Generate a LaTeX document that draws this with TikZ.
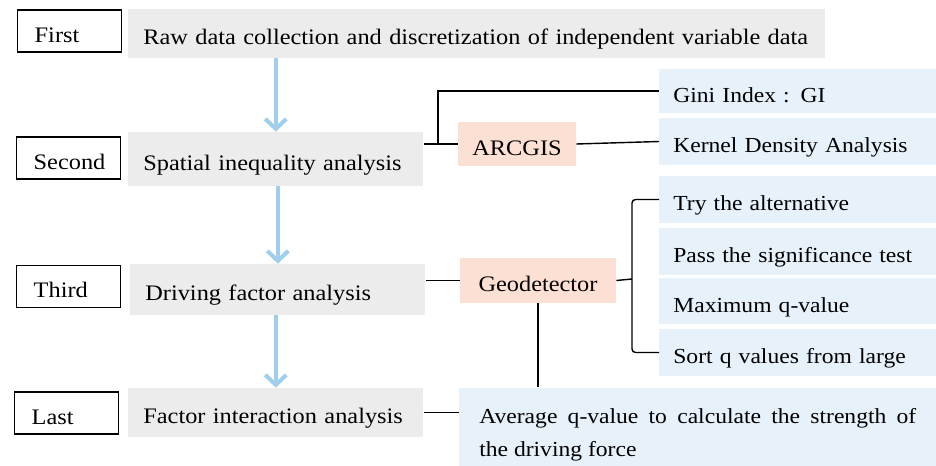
\documentclass[tikz,border=0pt]{standalone}
\usepackage{fontspec}
\setmainfont{Liberation Serif}[FakeStretch=1.1]
\usepackage{tikz}
\usetikzlibrary{arrows.meta}
\definecolor{stepGray}{RGB}{236,236,236}
\definecolor{toolSalmon}{RGB}{252,224,212}
\definecolor{resultBlue}{RGB}{230,241,249}
\definecolor{flowBlue}{RGB}{160,206,236}

\begin{document}
\begin{tikzpicture}[x=0.02cm, y=-0.02cm,
        every node/.style={font=\fontsize{12.6}{15}\selectfont}]
        \tikzstyle{oneLine} = [text height=12.6pt, text depth=0pt]
        \tikzstyle{stageStyle} = [oneLine, draw=black, line width=0.8pt, anchor=west, minimum height=0.84cm,
            text width=1.4cm, inner xsep=0.34cm, align=left]
        \tikzstyle{stepStyle} = [oneLine, fill=stepGray, anchor=west, minimum height=1cm,
            text width=5.3cm, inner xsep=0.3cm, align=left]
        \tikzstyle{toolStyle} = [oneLine, fill=toolSalmon, minimum height=0.89cm]
        \tikzstyle{resultStyle} = [oneLine, fill=resultBlue, anchor=west, minimum height=0.94cm,
            text width=4.98cm, inner xsep=0.28cm, align=left, font=\fontsize{12.2}{15}\selectfont]
        \tikzstyle{avgStyle} = [fill=resultBlue, anchor=west, minimum height=1.54cm, text width=8.74cm,
            minimum width=9.54cm, inner xsep=0.34cm, align=justify,
            font=\fontsize{12.2}{19}\selectfont]
        \tikzstyle{flowArrow} = [draw=flowBlue, line width=2.3pt, -{Straight Barb[length=0.2cm, width=0.42cm]}]
        \tikzstyle{blackEdge} = [draw=black, line width=0.8pt]
        \useasboundingbox (0,0) rectangle (936,466);
        % stages
        \node[stageStyle] (first) at (17,31) {First};
        \node[stageStyle] (second) at (16,158) {Second};
        \node[stageStyle] (third) at (16,286.5) {Third};
        \node[stageStyle] (last) at (14,413) {Last};
        % steps
        \node[stepStyle, text width=13.34cm, minimum height=0.98cm] (raw) at (128,33.5)
            {Raw data collection and discretization of independent variable data};
        \node[stepStyle, minimum height=1.08cm] (spatial) at (128,159) {Spatial inequality analysis};
        \node[stepStyle, minimum height=1.02cm] (driving) at (130,289.5) {Driving factor analysis};
        \node[stepStyle, minimum height=0.98cm] (factor) at (128,412.5) {Factor interaction analysis};
        % tools
        \node[toolStyle, minimum width=2.36cm] (arcgis) at (517,144) {ARCGIS};
        \node[toolStyle, minimum width=3.12cm] (geodetector) at (538,280.5) {Geodetector};
        % results
        \node[resultStyle, minimum height=0.88cm] (gini) at (659,91) {Gini Index : GI};
        \node[resultStyle] (kernel) at (659,141.5) {Kernel Density Analysis};
        \node[resultStyle] (try) at (659,199.5) {Try the alternative};
        \node[resultStyle] (pass) at (659,251.5) {Pass the significance test};
        \node[resultStyle] (maximum) at (659,301) {Maximum q-value};
        \node[resultStyle] (sort) at (659,352.5) {Sort q values from large};
        \node[avgStyle] (average) at (459,427.5)
            {\rule{0pt}{17pt}Average q-value to calculate the strength of\linebreak the driving force};
        \foreach \from/\to in {raw/spatial, spatial/driving, driving/factor}
            \draw[flowArrow] (\to.north |- \from.south) -- (\to.north);
        \coordinate (arcJoint) at (438,144);
        \coordinate (geoBrace) at (632,279);
        \path[blackEdge] (spatial.east |- arcgis.west) edge (arcgis.west);
        \draw[blackEdge] (arcJoint) |- (gini.west);
        \path[blackEdge] (arcgis.east) edge (kernel.west);
        \path[blackEdge] (driving.east |- geodetector.west) edge (geodetector.west);
        \draw[blackEdge, rounded corners=2pt] (try.west) -| (geoBrace) |- (sort.west);
        \draw[blackEdge] (geodetector.east) -- (geoBrace);
        \draw[blackEdge] (geodetector.south) -- (geodetector.south |- average.north);
        \draw[blackEdge] (factor.east) -- (factor.east -| average.west);
    \end{tikzpicture}
\end{document}
